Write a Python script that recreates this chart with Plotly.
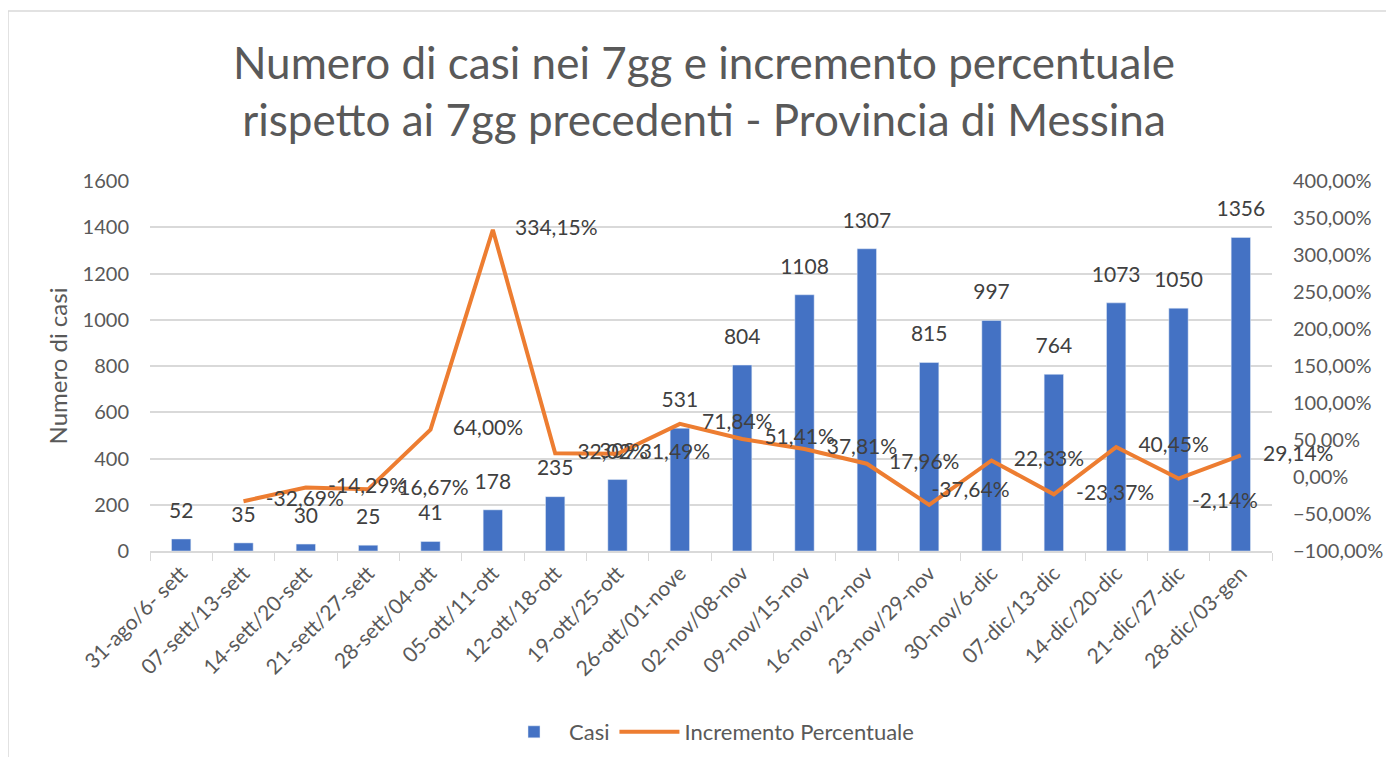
import plotly.graph_objects as go

categories = ["31-ago/6- sett", "07-sett/13-sett", "14-sett/20-sett", "21-sett/27-sett",
              "28-sett/04-ott", "05-ott/11-ott", "12-ott/18-ott", "19-ott/25-ott",
              "26-ott/01-nove", "02-nov/08-nov", "09-nov/15-nov", "16-nov/22-nov",
              "23-nov/29-nov", "30-nov/6-dic", "07-dic/13-dic", "14-dic/20-dic",
              "21-dic/27-dic", "28-dic/03-gen"]
casi = [52, 35, 30, 25, 41, 178, 235, 309, 531, 804, 1108, 1307, 815, 997, 764, 1073, 1050, 1356]
incremento = [None, -0.3269, -0.1429, -0.1667, 0.64, 3.3415, 0.3202, 0.3149, 0.7184,
              0.5141, 0.3781, 0.1796, -0.3764, 0.2233, -0.2337, 0.4045, -0.0214, 0.2914]
y2_ticks = [-1.0, -0.5, 0.0, 0.5, 1.0, 1.5, 2.0, 2.5, 3.0, 3.5, 4.0]

FONT = "Lato, Calibri, Carlito, sans-serif"
GREY = "#595959"
LABEL = "#404040"
CLEAR = "rgba(0,0,0,0)"

# label placement for the percentage labels (as in the reference)
pct_pos = ["middle right"] * len(categories)
pct_size = [34] * len(categories)
pct_pos[12], pct_size[12] = "top right", 2
pct_pos[16], pct_size[16] = "bottom right", 20

fig = go.Figure()
fig.add_trace(go.Bar(
    x=categories, y=casi, name="Casi", marker_color="#4472C4",
))
fig.add_trace(go.Scatter(
    x=categories, y=casi, mode="markers+text", showlegend=False, hoverinfo="skip",
    marker=dict(size=24, color=CLEAR, line=dict(width=0, color=CLEAR)),
    text=[str(v) for v in casi], textposition="top center",
    textfont=dict(family=FONT, size=21, color=LABEL), cliponaxis=False,
))
fig.add_trace(go.Scatter(
    x=categories, y=incremento, name="Incremento Percentuale", yaxis="y2",
    mode="lines+markers+text", line=dict(color="#ED7D31", width=4),
    marker=dict(size=pct_size, color=CLEAR, opacity=0, line=dict(width=0, color=CLEAR)),
    texttemplate="%{y:.2%}", textposition=pct_pos,
    textfont=dict(family=FONT, size=21, color=LABEL), cliponaxis=False,
    connectgaps=False,
))

# page is offset by the 8px body margin
OFF = 8
W, H = 1394 - 2 * OFF, 765 - 2 * OFF
L, T = 150 - OFF, 181 - OFF
pw, ph = 1122, 370
R = W - L - pw
B = H - T - ph

def px(xp):
    return (xp - OFF - L) / pw

def py(yp):
    return (T + ph - (yp - OFF)) / ph

fig.update_layout(
    width=W, height=H,
    margin=dict(l=L, r=R, t=T, b=B, autoexpand=False),
    paper_bgcolor="white", plot_bgcolor="white",
    separators=",.",
    font=dict(family=FONT, color=GREY, size=20),
    title=dict(text="Numero di casi nei 7gg e incremento percentuale<br>rispetto ai 7gg precedenti - Provincia di Messina",
               x=(704 - OFF) / W, xanchor="center", y=1 - 71 / H, yanchor="top",
               font=dict(family=FONT, size=44, color=GREY)),
    bargap=0.69,
    xaxis=dict(range=[-0.5, len(categories) - 0.5], showline=True, linecolor="#d9d9d9", linewidth=1.5,
               ticks="outside", tickson="boundaries", ticklen=8, tickcolor="#d9d9d9",
               tickangle=-45, tickfont=dict(family=FONT, size=21, color=GREY),
               showgrid=False),
    yaxis=dict(range=[0, 1600], dtick=200, showgrid=True, gridcolor="#d9d9d9", gridwidth=1.5,
               zeroline=False, ticks="", ticklabelstandoff=20,
               tickfont=dict(family=FONT, size=20, color=GREY),
               title=dict(text="Numero di casi", font=dict(family=FONT, size=24, color=GREY), standoff=8)),
    yaxis2=dict(overlaying="y", side="right", range=[-1, 4], tickvals=y2_ticks,
                tickformat=".2%", showgrid=False, zeroline=False, ticklabelstandoff=20,
                tickfont=dict(family=FONT, size=20, color=GREY)),
    legend=dict(orientation="h", x=px(709), xanchor="center",
                y=py(732), yanchor="middle", itemwidth=60,
                font=dict(family=FONT, size=22, color=GREY), traceorder="normal"),
    shapes=[dict(type="rect", xref="paper", yref="paper",
                 x0=px(8), x1=px(1420),
                 y0=py(800), y1=py(11),
                 line=dict(color="#d9d9d9", width=1.5), fillcolor="rgba(0,0,0,0)",
                 layer="below")],
)

fig.write_html("out.html")
